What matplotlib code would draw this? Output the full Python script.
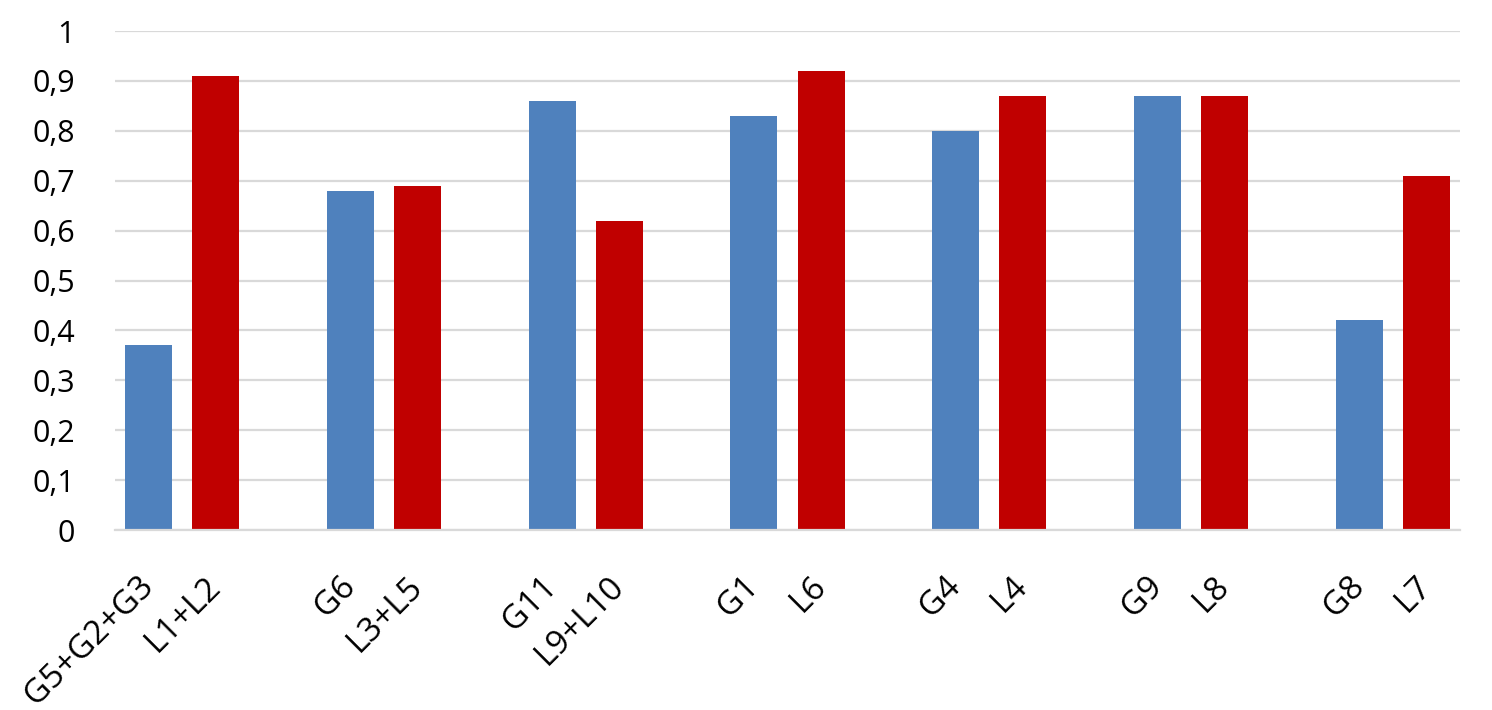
import matplotlib
matplotlib.use("Agg")
import matplotlib.pyplot as plt
from matplotlib.ticker import FuncFormatter

categories = ["G5+G2+G3", "L1+L2", "", "G6", "L3+L5", "", "G11", "L9+L10", "",
              "G1", "L6", "", "G4", "L4", "", "G9", "L8", "", "G8", "L7"]
values = [0.37, 0.91, 0, 0.68, 0.69, 0, 0.86, 0.62, 0,
          0.83, 0.92, 0, 0.80, 0.87, 0, 0.87, 0.87, 0, 0.42, 0.71]
blue = "#4F81BD"
red = "#C00000"

plt.rcParams['font.family'] = ['Open Sans', 'DejaVu Sans']

fig = plt.figure(figsize=(14.92, 7.10), dpi=100)
ax = fig.add_axes([0.0771, 0.2535, 0.9786 - 0.0771, 0.9563 - 0.2535])

x = list(range(len(categories)))
colors = []
for c in categories:
    colors.append(blue if c.startswith("G") else red)
ax.bar(x, values, width=0.7, color=colors, zorder=3)

ax.set_xlim(-0.5, len(categories) - 0.5)
ax.set_ylim(0, 1)
ax.set_yticks([i / 10 for i in range(11)])
ax.yaxis.set_major_formatter(FuncFormatter(lambda v, p: "0" if v == 0 else ("1" if abs(v - 1) < 1e-9 else f"{v:.1f}".replace(".", ","))))
ax.grid(axis='y', color="#D9D9D9", linewidth=1.6, zorder=0)
ax.set_axisbelow(True)

ax.set_xticks(x)
ax.set_xticklabels(categories, rotation=45, ha='right', va='center', rotation_mode='anchor')

for s in ["top", "right", "left"]:
    ax.spines[s].set_visible(False)
ax.spines["bottom"].set_color("#D9D9D9")
ax.spines["bottom"].set_linewidth(1.6)
ax.spines["bottom"].set_zorder(4)

ax.tick_params(axis='y', length=0, pad=29, labelsize=22, labelcolor="#000000")
ax.tick_params(axis='x', length=0, pad=37, labelsize=24, labelcolor="#000000")

fig.savefig("out.png", dpi=100)
